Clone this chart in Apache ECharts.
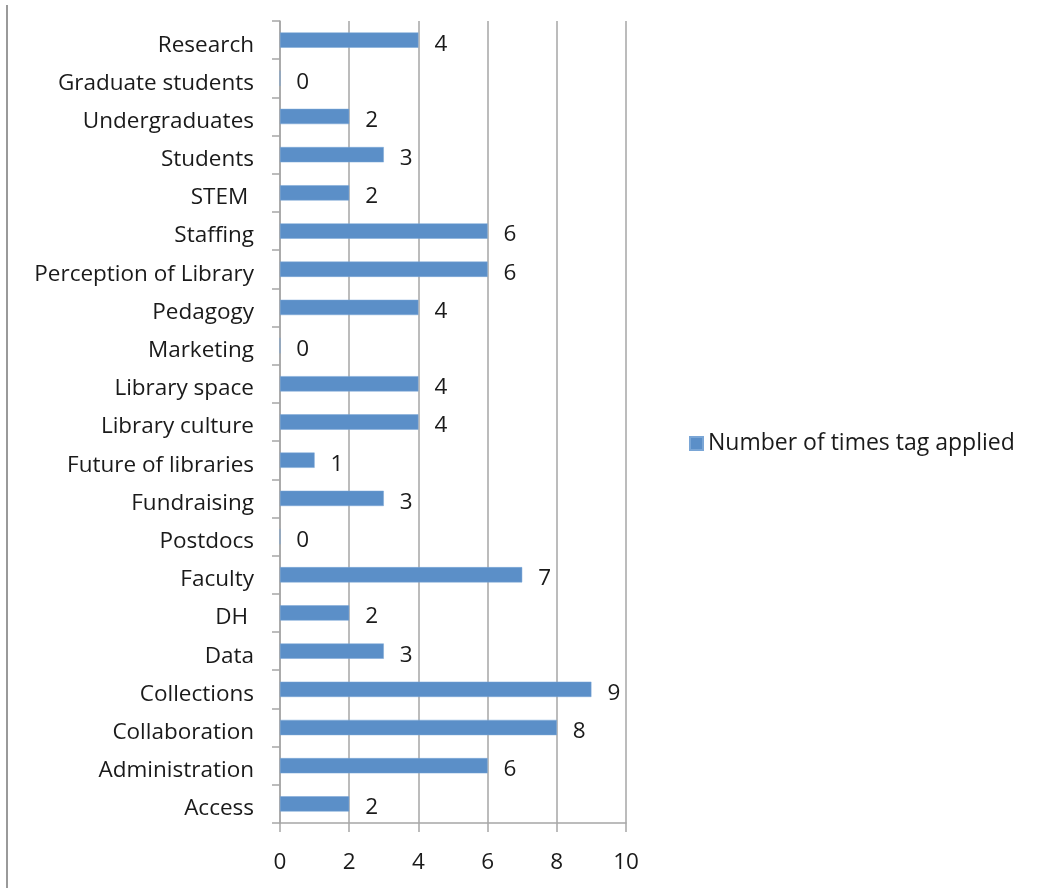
<!DOCTYPE html>
<html>
<head>
<meta charset="utf-8">
<script src="https://cdn.jsdelivr.net/npm/echarts@6/dist/echarts.min.js"></script>
<style>
  html, body { margin: 0; padding: 0; background: #fff; }
  #chart { width: 1042px; height: 888px; }
</style>
</head>
<body>
<div id="chart"></div>
<script>
// Tags, listed bottom to top as they appear on the category axis
const categories = [
  'Access', 'Administration', 'Collaboration', 'Collections', 'Data', 'DH ',
  'Faculty', 'Postdocs', 'Fundraising', 'Future of libraries', 'Library culture',
  'Library space', 'Marketing', 'Pedagogy', 'Perception of Library', 'Staffing',
  'STEM ', 'Students', 'Undergraduates', 'Graduate students', 'Research'
];
const tagCounts = [2, 6, 8, 9, 3, 2, 7, 0, 3, 1, 4, 4, 0, 4, 6, 6, 2, 3, 2, 0, 4];
const seriesName = 'Number of times tag applied';
const xTicks = [0, 2, 4, 6, 8, 10];

const FONT = '"Open Sans", "Liberation Sans", sans-serif';
const TEXT = '#1a1a1a';
const GRID = '#a6a6a6';
const BAR = '#5b8fc8';
const FS = 22.5;

const chart = echarts.init(document.getElementById('chart'));
chart.setOption({
  animation: false,
  backgroundColor: '#fff',
  textStyle: { fontFamily: FONT },
  grid: { left: 280, right: 416, top: 21, bottom: 65, containLabel: false },
  legend: {
    data: [seriesName],
    left: 684, top: 427,
    itemWidth: 13, itemHeight: 13, itemGap: 4,
    icon: 'rect',
    textStyle: { fontFamily: FONT, fontSize: 23, color: TEXT, padding: [3, 0, 0, 0] }
  },
  xAxis: {
    type: 'value',
    min: xTicks[0], max: xTicks[xTicks.length - 1], interval: 2,
    axisLine: { show: true, lineStyle: { color: GRID, width: 1.5 } },
    axisTick: { show: true, length: 9, lineStyle: { color: GRID, width: 1.5 } },
    splitLine: { show: true, lineStyle: { color: GRID, width: 1.5 } },
    axisLabel: { fontFamily: FONT, fontSize: FS, color: TEXT, margin: 28 }
  },
  yAxis: {
    type: 'category',
    data: categories,
    axisLine: { show: true, lineStyle: { color: GRID, width: 1.5 } },
    axisTick: { show: true, length: 8, alignWithLabel: false, lineStyle: { color: GRID, width: 1.5 } },
    axisLabel: {
      fontFamily: FONT, fontSize: FS, color: TEXT, margin: 26,
      verticalAlign: 'top', lineHeight: 10
    },
    splitLine: { show: false }
  },
  series: [{
    name: seriesName,
    type: 'bar',
    data: tagCounts,
    barCategoryGap: '60%',
    itemStyle: { color: BAR, borderColor: '#7aa6d6', borderWidth: 0.5 },
    label: {
      show: true, position: 'right', distance: 16, offset: [0, 4],
      fontFamily: FONT, fontSize: FS, color: TEXT
    }
  }],
  graphic: [{
    type: 'line',
    shape: { x1: 7, y1: 5, x2: 7, y2: 888 },
    style: { stroke: '#9a9a9a', lineWidth: 2 }
  }]
});
</script>
</body>
</html>
